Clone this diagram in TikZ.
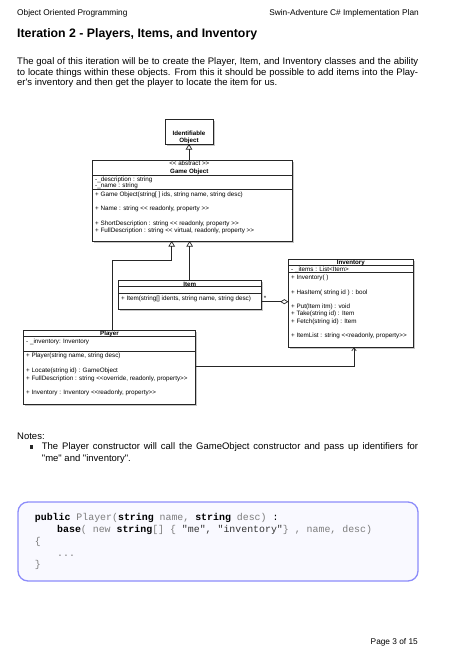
\documentclass[tikz,border=0pt]{standalone}
\usepackage{fontspec}
\setmainfont{Liberation Sans}[Ligatures=TeXOff]
\setmonofont{Liberation Mono}
\usetikzlibrary{arrows.meta, positioning, shadows}

\definecolor{codeedge}{RGB}{140,140,250}
\definecolor{codefill}{RGB}{249,249,255}
\definecolor{codegray}{RGB}{125,125,125}
\newcommand\kw[1]{\textbf{\color{black}#1}}
\newcommand\bodysize{\fontsize{9.5}{11}\selectfont}

\begin{document}
\begin{tikzpicture}[x=1pt, y=-1pt,
    head/.style={font=\fontsize{8.3}{9}\selectfont, inner sep=0pt},
    bodyline/.style={font=\bodysize, inner sep=0pt, anchor=mid west},
    umlbox/.style={draw=black!85, line width=0.8pt, fill=white, inner sep=0pt, outer sep=0pt,
        drop shadow={shadow xshift=1.6pt, shadow yshift=-1.6pt, opacity=0.45}},
    umlsep/.style={draw=black!85, line width=0.6pt},
    umltxt/.style={font=\fontsize{6.3}{7}\selectfont, inner sep=0pt, anchor=mid west},
    umlname/.style={font=\fontsize{6.2}{7}\selectfont\bfseries, inner sep=0pt, anchor=mid},
    inherit/.style={draw=black!85, line width=0.7pt, -{Triangle[open, length=5.5pt, width=6.5pt]}},
    aggr/.style={draw=black!85, line width=0.7pt, -{Diamond[open, length=8pt, width=5pt]}},
    assoc/.style={draw=black!85, line width=0.7pt, -{Straight Barb[length=3pt, width=4.5pt]}},
    codebox/.style={draw=codeedge, line width=1.3pt, fill=codefill, rounded corners=10pt, inner sep=0pt},
    codeline/.style={font=\fontsize{9.9}{11}\ttfamily, inner sep=0pt, anchor=mid west, text=codegray}
]
\useasboundingbox (0,0) rectangle (453,651);

% page header and intro
\node[head, anchor=mid west] (hleft) at (17,13.3) {Object Oriented Programming};
\node[head, anchor=mid east] (hright) at (419,13.3) {Swin-Adventure C\# Implementation Plan};
\node[font=\fontsize{12.3}{14}\selectfont\bfseries, inner sep=0pt, anchor=mid west] (title) at (17,35)
    {Iteration 2 - Players, Items, and Inventory};
\node[bodyline] (intro1) at (17,62.3) {\makebox[401pt][s]{The goal of this iteration will be to create the Player, Item, and Inventory classes and the ability}};
\node[bodyline] (intro2) at (17,72.8) {\makebox[401pt][s]{to locate things within these objects. From this it should be possible to add items into the Play-}};
\node[bodyline] (intro3) at (17,83.3) {er's inventory and then get the player to locate the item for us.};

% class boxes
\node[umlbox, minimum width=48pt, minimum height=25pt] (ident) at (189,131.5) {};
\node[umlbox, minimum width=200.4pt, minimum height=81pt] (gameobj) at (192.5,200.5) {};
\node[umlbox, minimum width=142.7pt, minimum height=28.3pt] (item) at (189.65,294.85) {};
\node[umlbox, minimum width=125.2pt, minimum height=88pt] (inventory) at (350.9,303.3) {};
\node[umlbox, minimum width=172.4pt, minimum height=74pt] (player) at (109.5,367) {};

% Identifiable Object
\node[umlname] (identname) at (189,132.5) {Identifiable};
\node[umlname] (identname2) at (189,140) {Object};

% Game Object
\draw[umlsep] (92.3,175) -- (292.7,175);
\draw[umlsep] (92.3,189) -- (292.7,189);
\node[font=\fontsize{6.2}{7}\selectfont, inner sep=0pt] (goster) at (189.3,163.5) {<< abstract >>};
\node[umlname] (goname) at (189.3,170.8) {Game Object};
\node[umltxt] (godesc) at (95,178.6) {-\_description : string};
\node[umltxt] (goname2) at (95,184.6) {-\_name : string};
\node[umltxt] (goctor) at (95,193.5) {+ Game Object(string[ ] ids, string name, string desc)};
\node[umltxt] (goprop) at (95,208) {+ Name : string << readonly, property >>};
\node[umltxt] (goshort) at (95,222.7) {+ ShortDescription : string << readonly, property >>};
\node[umltxt] (gofull) at (95,230) {+ FullDescription : string << virtual, readonly, property >>};

% Item
\draw[umlsep] (118.3,286.7) -- (261,286.7);
\draw[umlsep] (118.3,293.3) -- (261,293.3);
\node[umlname] (itemname) at (189.65,283.5) {Item};
\node[umltxt] (itemctor) at (121,298.3) {+ Item(string[] idents, string name, string desc)};

% Inventory
\draw[umlsep] (288.3,265.3) -- (413.5,265.3);
\draw[umlsep] (288.3,272) -- (413.5,272);
\node[umlname] (invname) at (350.9,262.3) {Inventory};
\node[umltxt] (invitems) at (291,268.7) {- \_items : List<Item>};
\node[umltxt] (invctor) at (291,277.3) {+ Inventory( )};
\node[umltxt] (invhas) at (291,291.7) {+ HasItem( string id ) : bool};
\node[umltxt] (invput) at (291,305.7) {+ Put(Item itm) : void};
\node[umltxt] (invtake) at (291,313.3) {+ Take(string id) : Item};
\node[umltxt] (invfetch) at (291,320.7) {+ Fetch(string id) : Item};
\node[umltxt] (invlist) at (291,335) {+ ItemList : string <<readonly, property>>};

% Player
\draw[umlsep] (23.3,336.7) -- (195.7,336.7);
\draw[umlsep] (23.3,351.7) -- (195.7,351.7);
\node[umlname] (plname) at (109.5,333) {Player};
\node[umltxt] (plinv) at (26,340.7) {- \_inventory: Inventory};
\node[umltxt] (plctor) at (26,355.3) {+ Player(string name, string desc)};
\node[umltxt] (pllocate) at (26,370) {+ Locate(string id) : GameObject};
\node[umltxt] (plfull) at (26,377.8) {+ FullDescription : string <<override, readonly, property>>};
\node[umltxt] (plprop) at (26,392.3) {+ Inventory : Inventory <<readonly, property>>};

% connectors
\coordinate (plbend) at (171.7,260.7);
\coordinate (aggpt) at (288.3,301.7);
\coordinate (invlink) at (354,366.7);
\draw[inherit] (gameobj.north -| ident.south) -- (ident.south);
\draw[inherit] (item.north) -- (item.north |- gameobj.south);
\draw[inherit] ([xshift=2.8pt]player.north) |- (plbend) -- (plbend |- gameobj.south);
\draw[aggr] (aggpt -| item.east) -- (aggpt);
\node[font=\fontsize{6.3}{7}\selectfont, inner sep=0pt] (aggstar) at (265,298.5) {*};
\draw[assoc] (invlink -| player.east) -| (invlink |- inventory.south);

% notes
\node[bodyline] (notes) at (17,437) {Notes:};
\node[fill=black!85, minimum size=3.6pt, inner sep=0pt] (bullet) at (31.3,446.7) {};
\node[bodyline] (note1) at (41.7,446.7) {\makebox[376.3pt][s]{The Player constructor will call the GameObject constructor and pass up identifiers for}};
\node[bodyline] (note2) at (41.7,458.5) {"me" and "inventory".};

% code sample
\node[codebox, minimum width=400pt, minimum height=79pt] (codebg) at (218,541.5) {};
\node[codeline] (code1) at (34.7,518) {\kw{public} Player(\kw{string} name, \kw{string} desc) \textcolor{black}{:}};
\node[codeline] (code2) at (57,530) {\kw{base}( new \kw{string}[] \{ \textcolor{black!80}{"me", "inventory"}\} , name, desc)};
\node[codeline] (code3) at (34.7,541.8) {\{};
\node[codeline] (code4) at (57,553.5) {...};
\node[codeline] (code5) at (34.7,565.3) {\}};

% footer
\node[head, anchor=mid east] (pagenum) at (418,642) {Page 3 of 15};
\end{tikzpicture}
\end{document}
